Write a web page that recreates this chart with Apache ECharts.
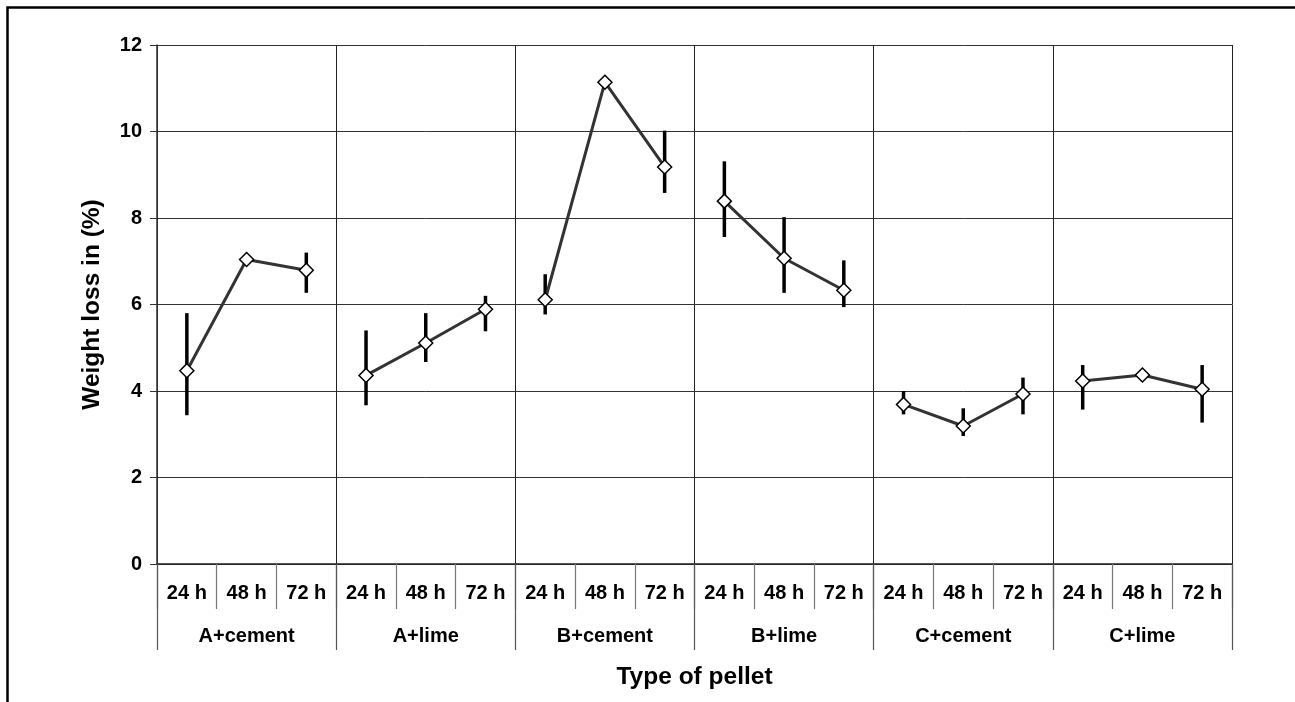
<!DOCTYPE html>
<html>
<head>
<meta charset="utf-8">
<script src="https://cdn.jsdelivr.net/npm/echarts@6/dist/echarts.min.js"></script>
<style>
html,body{margin:0;padding:0;background:#fff;}
#chart{width:1295px;height:702px;}
</style>
</head>
<body>
<div id="chart"></div>
<script>
// ---- data ----
var groups = ['A+cement', 'A+lime', 'B+cement', 'B+lime', 'C+cement', 'C+lime'];
var times = ['24 h', '48 h', '72 h'];
var meanValues = [4.47, 7.04, 6.79, 4.36, 5.11, 5.89, 6.11, 11.14, 9.18, 8.39, 7.07, 6.33, 3.69, 3.19, 3.93, 4.23, 4.37, 4.04];
var lowValues  = [3.44, null, 6.27, 3.67, 4.67, 5.38, 5.77, null, 8.58, 7.56, 6.27, 5.94, 3.46, 2.96, 3.46, 3.57, null, 3.27];
var highValues = [5.80, null, 7.20, 5.40, 5.80, 6.20, 6.70, null, 10.02, 9.31, 8.02, 7.02, 4.00, 3.60, 4.31, 4.60, null, 4.60];
var yTicks = {min: 0, max: 12, interval: 2};
var xTitle = 'Type of pellet';
var yTitle = 'Weight loss in (%)';

// ---- build ----
var categories = [];
groups.forEach(function (g) { times.forEach(function (t) { categories.push(t); }); });

var FONT = "'Liberation Sans', Arial, sans-serif";

var lineSeries = groups.map(function (g, gi) {
  var d = categories.map(function (c, i) {
    return (Math.floor(i / times.length) === gi) ? meanValues[i] : null;
  });
  return {
    type: 'line', name: g, xAxisIndex: 0, yAxisIndex: 0, data: d,
    connectNulls: false, symbol: 'diamond', symbolSize: 14,
    lineStyle: {color: '#333', width: 3},
    itemStyle: {color: '#fff', borderColor: '#000', borderWidth: 1.5},
    z: 5, animation: false
  };
});

var errData = [];
categories.forEach(function (c, i) {
  if (lowValues[i] != null && highValues[i] != null) errData.push([i, lowValues[i], highValues[i]]);
});

var errSeries = {
  type: 'custom', xAxisIndex: 0, yAxisIndex: 0, data: errData, z: 3, animation: false,
  renderItem: function (params, api) {
    var lo = api.coord([api.value(0), api.value(1)]);
    var hi = api.coord([api.value(0), api.value(2)]);
    return {
      type: 'line',
      shape: {x1: lo[0], y1: lo[1], x2: hi[0], y2: hi[1]},
      style: {stroke: '#000', lineWidth: 3.5}
    };
  }
};

var chart = echarts.init(document.getElementById('chart'), null, {renderer: 'canvas'});
chart.setOption({
  backgroundColor: '#fff',
  animation: false,
  grid: {left: 157, right: 63, top: 45, bottom: 138, containLabel: false},
  xAxis: [{
    type: 'category', data: categories, position: 'bottom', boundaryGap: true,
    axisLine: {show: true, lineStyle: {color: '#222', width: 1.5}},
    axisTick: {show: true, length: 45, lineStyle: {color: '#777', width: 1.2}, interval: 0},
    axisLabel: {interval: 0, margin: 19, color: '#000', fontFamily: FONT, fontWeight: 'bold', fontSize: 20},
    splitLine: {show: false}
  }, {
    type: 'category', data: groups, position: 'bottom', boundaryGap: true,
    axisLine: {show: false},
    axisTick: {show: true, length: 86, lineStyle: {color: '#555', width: 1.2}, interval: 0},
    axisLabel: {interval: 0, margin: 62, color: '#000', fontFamily: FONT, fontWeight: 'bold', fontSize: 20},
    splitLine: {show: true, interval: 0, lineStyle: {color: '#222', width: 1}},
    name: xTitle, nameLocation: 'middle', nameGap: 101,
    nameTextStyle: {color: '#000', fontFamily: FONT, fontWeight: 'bold', fontSize: 24.5}
  }],
  yAxis: [{
    type: 'value', min: yTicks.min, max: yTicks.max, interval: yTicks.interval,
    axisLine: {show: true, lineStyle: {color: '#333', width: 1.5}},
    axisTick: {show: true, length: 7, lineStyle: {color: '#333'}},
    axisLabel: {margin: 15, color: '#000', fontFamily: FONT, fontWeight: 'bold', fontSize: 20},
    splitLine: {show: true, lineStyle: {color: '#333', width: 1}},
    name: yTitle, nameLocation: 'middle', nameGap: 52, nameRotate: 90,
    nameTextStyle: {color: '#000', fontFamily: FONT, fontWeight: 'bold', fontSize: 24.5}
  }],
  graphic: [{
    type: 'rect', left: 5, top: 5, silent: true, z: 100,
    shape: {x: 0, y: 0, width: 3000, height: 3000},
    style: {fill: null, stroke: '#000', lineWidth: 2.5}
  }],
  series: [errSeries].concat(lineSeries)
});
</script>
</body>
</html>
